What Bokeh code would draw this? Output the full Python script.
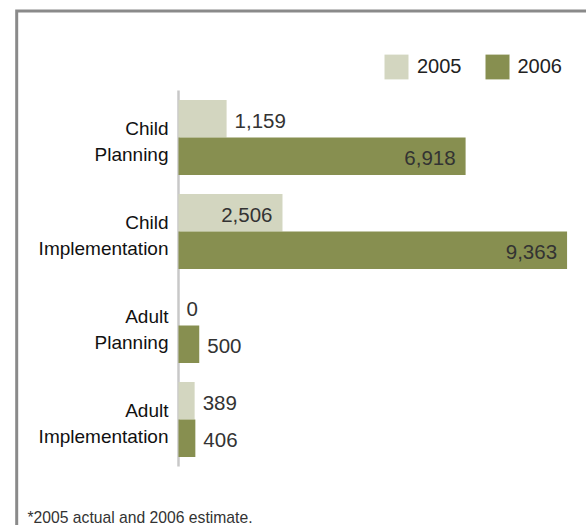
from bokeh.plotting import figure
from bokeh.models import Range1d, ColumnDataSource, Legend, LegendItem
from bokeh.core.properties import value
from bokeh.embed import file_html
from bokeh.resources import INLINE

# ---- data ----
categories = ["Child\nPlanning", "Child\nImplementation", "Adult\nPlanning", "Adult\nImplementation"]
years = ["2005", "2006"]
values_2005 = [1159, 2506, 0, 389]
values_2006 = [6918, 9363, 500, 406]
footnote = "*2005 actual and 2006 estimate."

# ---- styling / layout ----
COLORS = {"2005": "#d3d6c0", "2006": "#878f50"}
W, H = 586, 525
PX_PER_UNIT = 0.0415      # pixels per data unit along x
ZERO_PX = 178             # canvas x of the value axis
GROUP_PX = 94             # pixels per category
FIRST_CENTER_PX = 137     # canvas y of the first category centre
BAR_H = 0.4
INSIDE_MIN = 2000         # labels go inside bars longer than this

def px_to_x(px):
    return (px - ZERO_PX) / PX_PER_UNIT

def py_to_y(py):
    return (FIRST_CENTER_PX - py) / GROUP_PX

p = figure(width=W, height=H,
           x_range=Range1d(px_to_x(0), px_to_x(W)),
           y_range=Range1d(py_to_y(H), py_to_y(0)),
           x_axis_type=None, y_axis_type=None,
           output_backend="svg", toolbar_location=None, min_border=0)
p.outline_line_color = None
p.background_fill_color = "white"
p.border_fill_color = "white"

# frame border (top and left, running off the page)
p.line(x=[px_to_x(16.2), px_to_x(16.2), px_to_x(W + 40)],
       y=[py_to_y(H + 40), py_to_y(10.5), py_to_y(10.5)],
       line_color="#8a8a8a", line_width=3, line_join="miter")

centers = [-i for i in range(len(categories))]

# value axis line
p.segment(x0=[0], y0=[centers[0] + 0.5], x1=[0], y1=[centers[-1] - 0.5],
          line_color="#c8c8c8", line_width=2.5)

src05 = ColumnDataSource(dict(y=[c + BAR_H / 2 for c in centers], right=values_2005))
src06 = ColumnDataSource(dict(y=[c - BAR_H / 2 for c in centers], right=values_2006))
r05 = p.hbar(y="y", left=0, right="right", height=BAR_H, source=src05,
             fill_color=COLORS["2005"], line_color=None)
r06 = p.hbar(y="y", left=0, right="right", height=BAR_H, source=src06,
             fill_color=COLORS["2006"], line_color=None)

# value labels
lx, ly, lt, la, lo = [], [], [], [], []
for vals, src in ((values_2005, src05), (values_2006, src06)):
    for v, y in zip(vals, src.data["y"]):
        inside = v > INSIDE_MIN
        lx.append(v)
        ly.append(y)
        lt.append(f"{v:,}")
        la.append("right" if inside else "left")
        lo.append(-10 if inside else 8)
lab_src = ColumnDataSource(dict(x=lx, y=ly, text=lt, align=la, xo=lo))
p.text(x="x", y="y", text="text", source=lab_src, text_align="align", x_offset="xo",
       y_offset=2, text_baseline="middle", text_font=value("Liberation Sans"),
       text_font_size="20.5px", text_color="#333333")

# category labels
p.text(x=[0] * len(categories), y=centers, text=categories, x_offset=-10, y_offset=4,
       text_align="right", text_baseline="middle", text_line_height=1.2,
       text_font=value("Liberation Sans"), text_font_size="19px", text_color="#111111")

legend = Legend(items=[LegendItem(label=years[0], renderers=[r05]),
                       LegendItem(label=years[1], renderers=[r06])],
                orientation="horizontal", location=(381, 443),
                glyph_width=30, glyph_height=31, label_standoff=6, spacing=20,
                padding=0, margin=0, border_line_alpha=0, background_fill_alpha=0,
                label_text_font="Liberation Sans", label_text_font_size="20px",
                label_text_color="#222222")
p.add_layout(legend)

# footnote
p.text(x=[px_to_x(27)], y=[py_to_y(516.5)], text=[footnote],
       text_align="left", text_baseline="middle",
       text_font=value("Liberation Sans"), text_font_size="15.7px", text_color="#333333")

open("out.html", "w").write(file_html(p, INLINE))
